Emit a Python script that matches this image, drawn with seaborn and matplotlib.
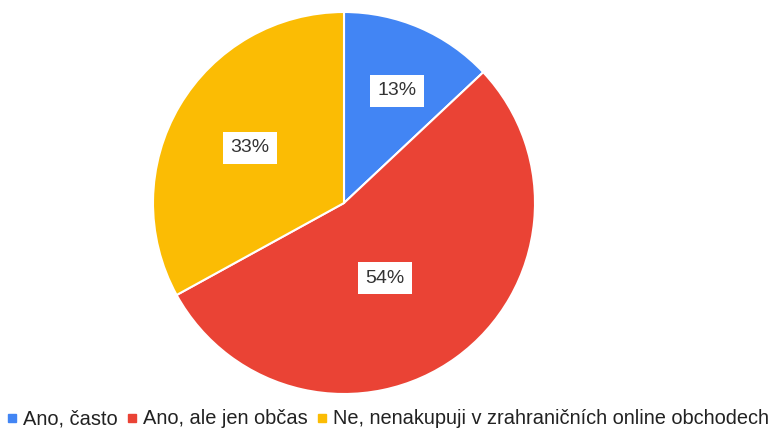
import matplotlib

matplotlib.use("Agg")

import numpy as np
import matplotlib.pyplot as plt
from matplotlib.lines import Line2D
import seaborn as sns


CATEGORIES = ["Ano, často", "Ano, ale jen občas", "Ne, nenakupuji v zrahraničních online obchodech"]
SHARES = [13, 54, 33]
COLORS = ["#4285F4", "#EA4335", "#FBBC04"]

# where the percent boxes sit: fraction of radius, angle in degrees
LABEL_RADIUS = [0.65, 0.45, 0.57]
LABEL_ANGLE = [64.8, -61.3, 149.5]

sns.set_theme(style="white")
plt.rcParams["font.family"] = ["Liberation Sans", "DejaVu Sans"]

W, H = 776, 430
fig = plt.figure(figsize=(W / 100, H / 100), dpi=100)

cx, cy, r = 344, 203, 191
ax = fig.add_axes([(cx - r) / W, (H - cy - r) / H, 2 * r / W, 2 * r / H])

wedges, texts, autotexts = ax.pie(
    SHARES,
    colors=COLORS,
    startangle=90,
    counterclock=False,
    autopct="%d%%",
    wedgeprops={"edgecolor": "white", "linewidth": 1.5},
    textprops={"fontsize": 14, "color": "#333333"},
)
for t, rad, ang in zip(autotexts, LABEL_RADIUS, LABEL_ANGLE):
    a = np.deg2rad(ang)
    t.set_position((rad * np.cos(a), rad * np.sin(a)))
    t.set_bbox({"facecolor": "white", "edgecolor": "none", "pad": 5.5})
ax.set_aspect("equal")
ax.set_xlim(-1, 1)
ax.set_ylim(-1, 1)
ax.axis("off")

handles = [
    Line2D([], [], marker="s", linestyle="none", markersize=5.5,
           markerfacecolor=c, markeredgecolor=c)
    for c in COLORS
]
fig.legend(
    handles,
    CATEGORIES,
    loc="center",
    bbox_to_anchor=(0.5, 1 - 419 / H),
    ncol=3,
    frameon=False,
    fontsize=14.4,
    handlelength=0.5,
    handletextpad=0.3,
    columnspacing=0.45,
    labelcolor="#222222",
)

fig.savefig("out.png", dpi=100)
